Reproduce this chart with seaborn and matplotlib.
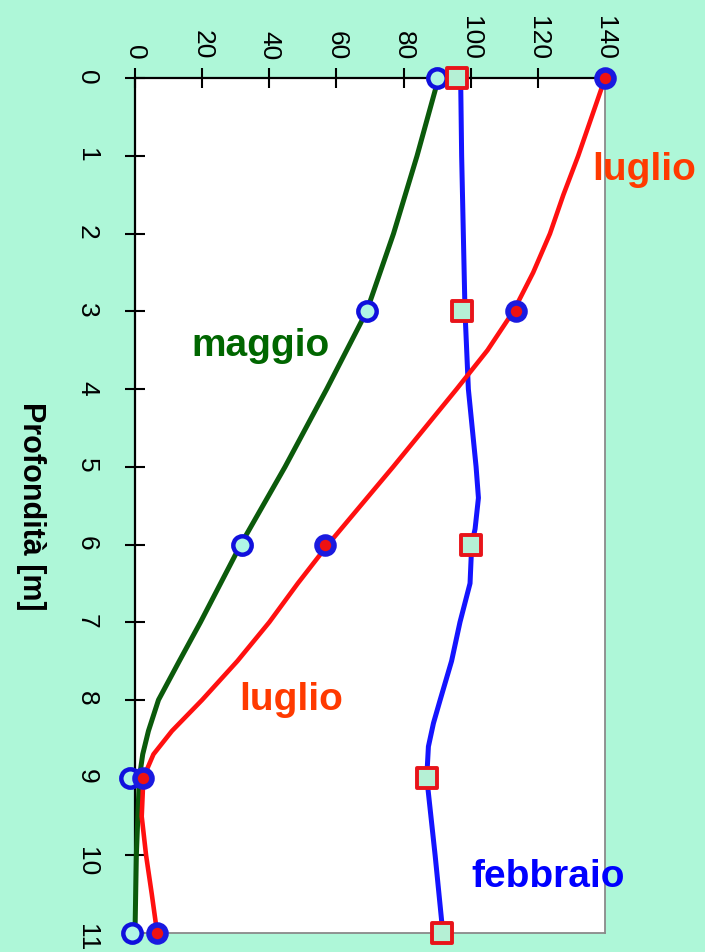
import matplotlib
matplotlib.use("Agg")
import matplotlib.pyplot as plt
import seaborn as sns

# markers (measured points)
depth_pts = [0, 3, 6, 9, 11]
maggio_pts = [90, 69, 32, -1.5, -1]
luglio_pts = [140, 113.5, 56.5, 2.3, 6.6]
febbraio_pts = [96, 97.5, 100, 87, 91.5]

# smoothed curves as drawn in the original
maggio_line_depth = [0, 1, 2, 3, 4, 5, 6, 6.5, 7, 7.5, 8, 8.4, 8.7, 9, 10, 11]
maggio_line = [90.4, 84, 77, 69, 57.1, 44.7, 31.5, 25.5, 19.5, 13.2, 7, 4, 2.3, 1.3, 0.4, 0.0]

luglio_line_depth = [0, 0.5, 1, 1.5, 2, 2.5, 3, 3.5, 4, 5, 6, 6.5, 7, 7.5, 8, 8.4, 8.7,
                     9, 9.5, 10, 10.5, 11]
luglio_line = [140, 136, 132, 127.6, 123.6, 118.6, 112.7, 105, 95.8, 76.9, 57.5, 48.5, 40,
               30.5, 20, 11, 5.5, 2.5, 2.0, 3.3, 5.0, 6.6]

febbraio_line_depth = [0, 1, 2, 3, 4, 5, 5.4, 5.8, 6, 6.5, 7, 7.5, 8, 8.3, 8.6, 9, 10, 11]
febbraio_line = [97, 97.3, 97.8, 98.3, 99.3, 101.6, 102.3, 101.3, 100.3, 99.8, 96.8, 94.3,
                 90.9, 88.9, 87.4, 86.9, 89.4, 91.7]

x_ticks = [0, 20, 40, 60, 80, 100, 120, 140]
depth_ticks = list(range(0, 12))

mint = "#aef7d8"

sns.set_style("ticks")
plt.rcParams["font.family"] = ["Liberation Sans", "DejaVu Sans"]
plt.rcParams["text.color"] = "black"
plt.rcParams["axes.labelcolor"] = "black"

fig = plt.figure(figsize=(7.05, 9.53), dpi=100, facecolor=mint)
ax = fig.add_axes([135 / 705, 1 - 934 / 953, 470 / 705, (934 - 79.3) / 953])
ax.set_facecolor("white")

# lines
sns.lineplot(x=maggio_line, y=maggio_line_depth, sort=False, estimator=None,
             color="#0b5a0b", lw=3.6, ax=ax, clip_on=False, zorder=3)
sns.lineplot(x=febbraio_line, y=febbraio_line_depth, sort=False, estimator=None,
             color="#1414ff", lw=3.6, ax=ax, clip_on=False, zorder=3)
sns.lineplot(x=luglio_line, y=luglio_line_depth, sort=False, estimator=None,
             color="#ff1010", lw=3.3, ax=ax, clip_on=False, zorder=3)

# markers
sns.scatterplot(x=maggio_pts, y=depth_pts, marker="o", s=175, color="#b0f5e6",
                edgecolor="#1010dd", linewidth=3.2, ax=ax, clip_on=False, zorder=6)
sns.scatterplot(x=luglio_pts, y=depth_pts, marker="o", s=150, color="#ee1111",
                edgecolor="#1a1ae0", linewidth=4.0, ax=ax, clip_on=False, zorder=6)
sns.scatterplot(x=febbraio_pts, y=depth_pts, marker="s", s=200, color="#b5f0d5",
                edgecolor="#e8141a", linewidth=2.8, ax=ax, clip_on=False, zorder=6)

ax.set_xlim(0, 140)
ax.set_ylim(11, 0)
ax.set_xticks(x_ticks)
ax.set_yticks(depth_ticks)

ax.xaxis.tick_top()
ax.tick_params(axis="x", top=True, bottom=False, labeltop=True, labelbottom=False,
               direction="inout", length=14, width=1.5, labelrotation=-90,
               labelsize=19, pad=7, colors="black")
ax.tick_params(axis="y", left=True, right=False, direction="inout", length=14,
               width=1.5, labelrotation=-90, labelsize=19, pad=19, colors="black")

for side in ["top", "left"]:
    ax.spines[side].set_color("black")
    ax.spines[side].set_linewidth(1.6)
for side in ["right", "bottom"]:
    ax.spines[side].set_visible(True)
    ax.spines[side].set_color("#8a8a8a")
    ax.spines[side].set_linewidth(1.3)

ax.set_xlabel("")
ax.set_ylabel("Profondità [m]", fontsize=22, fontweight="bold", rotation=-90,
              va="center", ha="center", color="black")
ax.yaxis.set_label_coords(-0.221, 0.5)

# series labels
fig.text(644 / 705, 1 - 180 / 953, "luglio", color="#ff3a00", fontsize=28,
         fontweight="bold", ha="center", va="baseline")
fig.text(261 / 705, 1 - 356 / 953, "maggio", color="#006600", fontsize=28,
         fontweight="bold", ha="center", va="baseline")
fig.text(291 / 705, 1 - 710 / 953, "luglio", color="#ff3a00", fontsize=28,
         fontweight="bold", ha="center", va="baseline")
fig.text(548 / 705, 1 - 887 / 953, "febbraio", color="#0000ff", fontsize=28,
         fontweight="bold", ha="center", va="baseline")

fig.savefig("out.png", dpi=100, facecolor=mint)
